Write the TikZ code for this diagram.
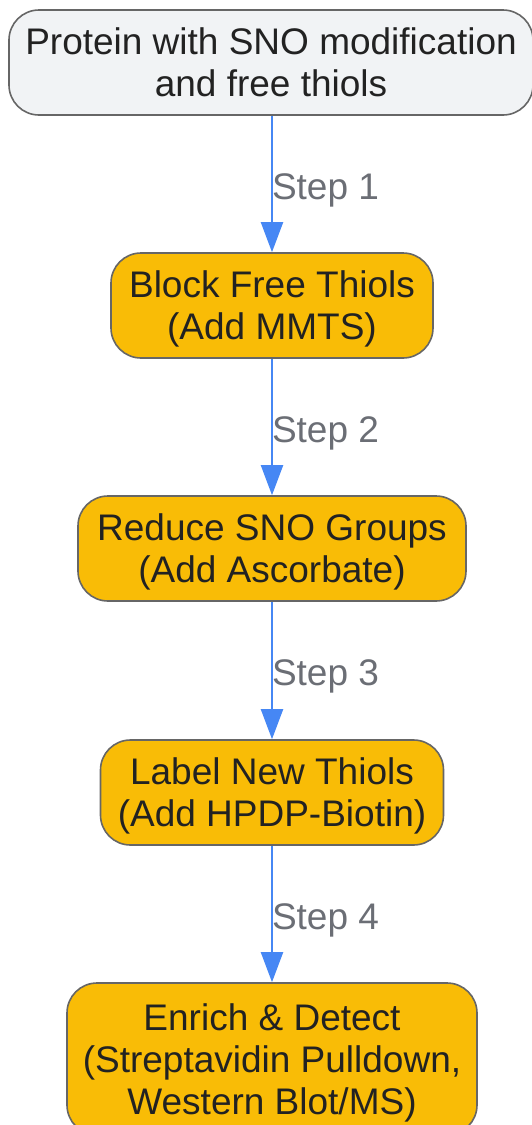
\documentclass[tikz,border=0pt]{standalone}
\usepackage{fontspec}
\setmainfont{Liberation Sans}
\usepackage{tikz}
\usetikzlibrary{arrows.meta}
\definecolor{stepfill}{HTML}{F9BC06}
\definecolor{startfill}{HTML}{F1F3F5}
\definecolor{boxline}{HTML}{666666}
\definecolor{boxtext}{HTML}{222222}
\definecolor{flowblue}{HTML}{4687F4}
\definecolor{labelgray}{HTML}{6B6E75}

\begin{document}
\begin{tikzpicture}[x=1pt,y=-1pt,
                    box/.style={draw=boxline,line width=1.6pt,rounded corners=30pt,align=center,
                                text=boxtext,font=\fontsize{37}{42}\selectfont,minimum height=105pt,inner sep=0pt,
                                text depth=-4pt},
                    startbox/.style={box,fill=startfill},
                    stepbox/.style={box,fill=stepfill},
                    flow/.style={draw=flowblue,line width=2pt,-{Triangle[length=30pt,width=22pt]}},
                    steplabel/.style={right,inner sep=0pt,xshift=-1pt,yshift=-6pt,text=labelgray,font=\fontsize{37}{42}\selectfont}]
                    \useasboundingbox (0,0) rectangle (531,1125);

                    \node[startbox,minimum width=524pt] (protein) at (271,62.5) {Protein with SNO modification\\and free thiols};
                    \node[stepbox,minimum width=322pt] (block) at (272,305.5) {Block Free Thiols\\(Add MMTS)};
                    \node[stepbox,minimum width=388pt] (reduce) at (272,548.5) {Reduce SNO Groups\\(Add Ascorbate)};
                    \node[stepbox,minimum width=343pt] (label) at (272,792.5) {Label New Thiols\\(Add HPDP-Biotin)};
                    \node[stepbox,minimum width=410pt,minimum height=152pt] (enrich) at (272,1059) {Enrich \& Detect\\(Streptavidin Pulldown,\\Western Blot/MS)};

                    \draw[flow] (protein.south -| block.north) -- node[steplabel]{Step 1} (block.north);
                    \draw[flow] (block.south) -- node[steplabel]{Step 2} (reduce.north);
                    \draw[flow] (reduce.south) -- node[steplabel]{Step 3} (label.north);
                    \draw[flow] (label.south) -- node[steplabel]{Step 4} (enrich.north);
                \end{tikzpicture}
\end{document}
